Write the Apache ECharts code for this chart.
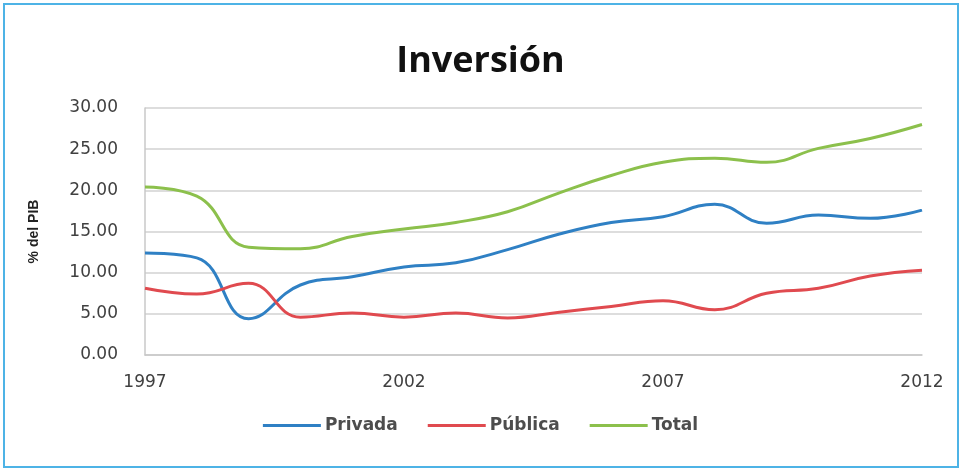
<!DOCTYPE html>
<html>
<head>
<meta charset="utf-8">
<script src="https://cdn.jsdelivr.net/npm/echarts@6/dist/echarts.min.js"></script>
<style>
html,body{margin:0;padding:0;background:#fff;}
#frame{position:absolute;left:3px;top:3px;width:952px;height:461px;border:2px solid #4db3e6;box-sizing:content-box;}
#chart{position:absolute;left:0;top:0;width:961px;height:469px;}
</style>
</head>
<body>
<div id="frame"></div>
<div id="chart"></div>
<script>
const years = ['1997','1998','1999','2000','2001','2002','2003','2004','2005','2006','2007','2008','2009','2010','2011','2012'];
const privada = [12.4, 11.8, 4.4, 8.5, 9.5, 10.7, 11.2, 12.8, 14.7, 16.1, 16.8, 18.3, 16.0, 17.0, 16.6, 17.6];
const publica = [8.1, 7.4, 8.7, 4.6, 5.1, 4.6, 5.1, 4.5, 5.2, 5.9, 6.6, 5.5, 7.5, 8.1, 9.6, 10.3];
const total = [20.4, 19.3, 13.1, 12.9, 14.4, 15.3, 16.1, 17.4, 19.7, 21.8, 23.4, 23.9, 23.4, 25.1, 26.3, 28.0];

const chart = echarts.init(document.getElementById('chart'));
const font = 'DejaVu Sans';
chart.setOption({
  animation: false,
  backgroundColor: 'transparent',
  title: {
    text: 'Inversión',
    left: 'center',
    top: 39,
    textStyle: {fontFamily: 'Open Sans', fontWeight: 'bold', fontSize: 36, color: '#111'}
  },
  legend: {
    top: 412,
    left: 'center',
    icon: 'rect',
    itemWidth: 58,
    itemHeight: 3,
    itemGap: 30,
    textStyle: {fontFamily: font, fontWeight: 'bold', fontSize: 17, color: '#4d4d4d', padding: [0,0,0,-1]},
    data: ['Privada','Pública','Total']
  },
  grid: {left: 145, right: 39, top: 108, bottom: 114, containLabel: false},
  xAxis: {
    type: 'category',
    data: years,
    boundaryGap: false,
    axisTick: {show: false},
    axisLine: {lineStyle: {color: '#c8c8c8', width: 1.5}},
    axisLabel: {interval: 4, margin: 19, fontFamily: font, fontSize: 17, color: '#404040'}
  },
  yAxis: {
    type: 'value',
    min: 0, max: 30, interval: 5,
    name: '% del PIB',
    nameLocation: 'middle',
    nameGap: 104,
    nameTextStyle: {fontFamily: 'Liberation Sans', fontWeight: 'bold', fontSize: 14, color: '#222'},
    axisLine: {show: true, lineStyle: {color: '#c8c8c8', width: 1.5}},
    axisTick: {show: false},
    splitLine: {lineStyle: {color: '#d2d2d2', width: 1.5}},
    axisLabel: {margin: 27, fontFamily: font, fontSize: 17, color: '#404040', formatter: v => v.toFixed(2)}
  },
  series: [
    {name: 'Privada', type: 'line', data: privada, smooth: 0.45, symbol: 'none', lineStyle: {width: 3, color: '#2f80c4'}, itemStyle: {color: '#2f80c4'}},
    {name: 'Pública', type: 'line', data: publica, smooth: 0.45, symbol: 'none', lineStyle: {width: 3, color: '#e04a4f'}, itemStyle: {color: '#e04a4f'}},
    {name: 'Total', type: 'line', data: total, smooth: 0.45, symbol: 'none', lineStyle: {width: 3, color: '#8cc04c'}, itemStyle: {color: '#8cc04c'}}
  ]
});
</script>
</body>
</html>
